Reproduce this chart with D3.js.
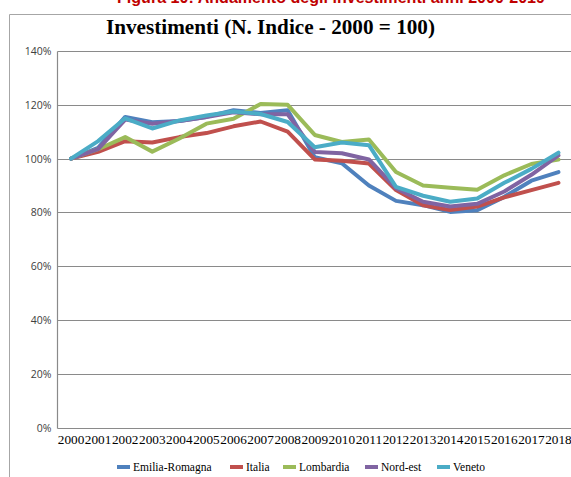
<!DOCTYPE html>
<html>
<head>
<meta charset="utf-8">
<script src="https://cdn.jsdelivr.net/npm/d3@7"></script>
<style>
  html, body { margin: 0; padding: 0; background: #fff; }
  svg { display: block; }
</style>
</head>
<body>
<svg id="chart" width="571" height="477"></svg>
<script>
// Investment index, 2000 = 100
const years = ["2000","2001","2002","2003","2004","2005","2006","2007","2008","2009",
               "2010","2011","2012","2013","2014","2015","2016","2017","2018"];

const emiliaRomagna = [100, 104, 115.5, 113.5, 114, 115.5, 118, 117, 118, 100.5, 98.3, 90, 84.3, 82.7, 80.2, 80.8, 85.8, 91.8, 95];
const italia        = [100, 102.5, 106.5, 106, 108, 109.5, 112, 113.8, 110, 99.7, 99.2, 98.2, 88.3, 82.7, 80.9, 82.2, 85.6, 88.3, 91];
const lombardia     = [100, 103.5, 108, 102.6, 107.5, 113, 114.8, 120.3, 120, 108.8, 106.2, 107.1, 95, 90, 89.2, 88.4, 93.8, 98, 99.7];
const nordEst       = [100, 103.5, 114.5, 113, 114, 115.5, 117.2, 116.5, 116.5, 102.5, 102, 99.7, 89, 84, 82.2, 83.2, 87.8, 94, 101.2];
const veneto        = [100, 106.5, 115, 111.2, 114.2, 116, 117.5, 116.6, 113.6, 104.2, 106, 105, 89.5, 86.2, 84, 85.2, 91, 96.2, 102.2];

const seriesNames = ["Emilia-Romagna", "Italia", "Lombardia", "Nord-est", "Veneto"];
const seriesValues = [emiliaRomagna, italia, lombardia, nordEst, veneto];
const seriesColors = ["#4F81BD", "#C0504D", "#9BBB59", "#8064A2", "#4BACC6"];

const yTicks = [0, 20, 40, 60, 80, 100, 120, 140];

const figureTitle = "Figura 10: Andamento degli investimenti anni 2000-2019";
const chartTitle = "Investimenti (N. Indice - 2000 = 100)";

const svg = d3.select("#chart");

// Figure caption (sits above the chart frame)
svg.append("text")
  .attr("x", 331).attr("y", 3)
  .attr("text-anchor", "middle")
  .attr("font-family", "'Liberation Sans', Arial, sans-serif")
  .attr("font-weight", "bold")
  .attr("font-size", 17)
  .attr("fill", "#C00000")
  .attr("textLength", 428)
  .attr("lengthAdjust", "spacingAndGlyphs")
  .text(figureTitle);

// Chart frame
svg.append("path")
  .attr("d", "M9.5,477 V14.5 H571")
  .attr("fill", "none")
  .attr("stroke", "#a6a6a6")
  .attr("stroke-width", 1);

// Chart title
svg.append("text")
  .attr("x", 270.5).attr("y", 34)
  .attr("text-anchor", "middle")
  .attr("font-family", "'Liberation Serif', 'DejaVu Serif', serif")
  .attr("font-weight", "bold")
  .attr("font-size", 20)
  .attr("fill", "#000")
  .attr("textLength", 329)
  .attr("lengthAdjust", "spacingAndGlyphs")
  .text(chartTitle);

const plot = { left: 57.5, right: 572, top: 51, bottom: 427.7 };

const x = d3.scaleBand().domain(years).range([plot.left, plot.right]);
const y = d3.scaleLinear().domain([0, 140]).range([plot.bottom, plot.top]);

// Horizontal gridlines
svg.append("g")
  .selectAll("line")
  .data(yTicks)
  .join("line")
  .attr("x1", plot.left).attr("x2", plot.right)
  .attr("y1", d => Math.round(y(d)) + 0.5).attr("y2", d => Math.round(y(d)) + 0.5)
  .attr("stroke", "#8a8a8a")
  .attr("stroke-width", 1.2);

// Vertical axis line
svg.append("line")
  .attr("x1", plot.left).attr("x2", plot.left)
  .attr("y1", Math.round(y(140)) + 0.5).attr("y2", Math.round(y(0)) + 0.5)
  .attr("stroke", "#8a8a8a")
  .attr("stroke-width", 1.2);

// Y axis labels
const yAxis = d3.axisLeft(y).tickValues(yTicks).tickFormat(d => d + "%").tickSize(0).tickPadding(6);
const yg = svg.append("g").attr("transform", `translate(${plot.left},0)`).call(yAxis);
yg.select(".domain").remove();
yg.selectAll("text")
  .attr("font-family", "'Open Sans', 'Liberation Sans', sans-serif")
  .attr("font-size", 10.5)
  .attr("fill", "#404040");

// X axis labels
const xAxis = d3.axisBottom(x).tickSize(0).tickPadding(8);
const xg = svg.append("g").attr("transform", `translate(0,${plot.bottom})`).call(xAxis);
xg.select(".domain").remove();
xg.selectAll("text")
  .attr("font-family", "'Liberation Serif', 'DejaVu Serif', serif")
  .attr("font-size", 11.5)
  .attr("fill", "#000")
  .attr("textLength", 26.5)
  .attr("lengthAdjust", "spacingAndGlyphs");

// Series lines
const line = d3.line()
  .x((d, i) => x(years[i]) + x.bandwidth() / 2)
  .y(d => y(d));

svg.append("g")
  .selectAll("path")
  .data(seriesValues)
  .join("path")
  .attr("d", d => line(d))
  .attr("fill", "none")
  .attr("stroke", (d, i) => seriesColors[i])
  .attr("stroke-width", 4)
  .attr("stroke-linejoin", "round")
  .attr("stroke-linecap", "round");

// Legend
const legendX = [117, 230, 283, 365, 437];
const legend = svg.append("g");
seriesNames.forEach((name, i) => {
  legend.append("rect")
    .attr("x", legendX[i]).attr("y", 465)
    .attr("width", 13).attr("height", 4)
    .attr("fill", seriesColors[i]);
  legend.append("text")
    .attr("x", legendX[i] + 16).attr("y", 471)
    .attr("font-family", "'Liberation Serif', 'DejaVu Serif', serif")
    .attr("font-size", 11.5)
    .attr("fill", "#000")
    .text(name);
});
</script>
</body>
</html>
